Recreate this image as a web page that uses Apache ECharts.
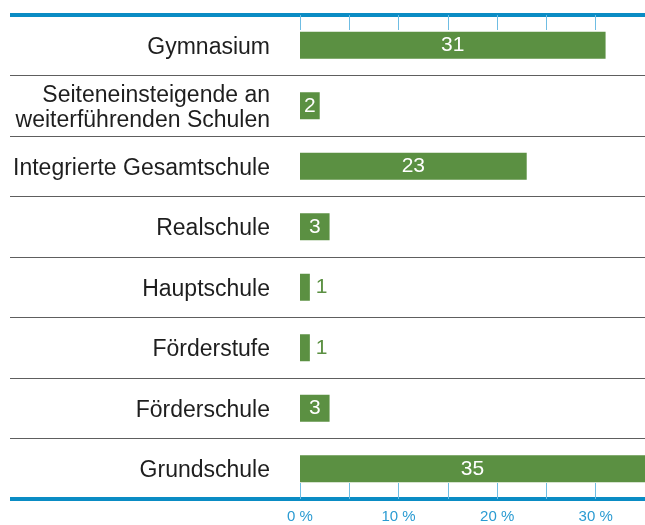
<!DOCTYPE html>
<html>
<head>
<meta charset="utf-8">
<script src="https://cdn.jsdelivr.net/npm/echarts@6/dist/echarts.min.js"></script>
<style>
	html, body { margin: 0; padding: 0; background: #fff; }
	#chart { width: 645px; height: 525px; }
</style>
</head>
<body>
<div id="chart"></div>
<script>
	// Schulformen, von oben nach unten
	const categories = [
		'Gymnasium',
		'Seiteneinsteigende an\nweiterführenden Schulen',
		'Integrierte Gesamtschule',
		'Realschule',
		'Hauptschule',
		'Förderstufe',
		'Förderschule',
		'Grundschule'
	];
	// Anteil in Prozent
	const values = [31, 2, 23, 3, 1, 1, 3, 35];
	const tickLabels = [0, 10, 20, 30];

	const blue = '#0a8cc4';
	const tickBlue = '#6fbde3';
	const green = '#5b9042';
	const grey = '#5e5e5e';
	const font = 'Liberation Sans, Arial, sans-serif';

	const chart = echarts.init(document.getElementById('chart'), null, { renderer: 'canvas' });

	const seriesData = values.map(v => {
		// sehr kleine Balken: Wert rechts daneben in grün
		if (v < 2) {
			return { value: v, label: { position: 'right', color: green, distance: 6 } };
		}
		return v;
	});

	// durchgehende blaue Linie oben/unten (ohne Ticks)
	const plainAxis = pos => ({
		gridIndex: 0, type: 'value', position: pos, min: 0, max: 1,
		axisLine: { show: true, lineStyle: { color: blue, width: 4, cap: 'butt' } },
		axisTick: { show: false }, axisLabel: { show: false }, splitLine: { show: false }
	});

	const option = {
		animation: false,
		textStyle: { fontFamily: font },
		grid: [
			// linker Bereich nur für die Linien
			{ left: 10, width: 290, top: 15, bottom: 26, outerBoundsMode: 'none' },
			{ left: 300, right: 0, top: 15, bottom: 26, outerBoundsMode: 'none' },
			// nur für die Beschriftung, etwas nach unten versetzt
			{ left: 270, width: 1, top: 17, bottom: 24, outerBoundsMode: 'none' }
		],
		xAxis: [
			plainAxis('top'),
			plainAxis('bottom'),
			{
				gridIndex: 1, type: 'value', position: 'top', min: 0, max: 35, interval: 5,
				axisLine: { show: true, lineStyle: { color: blue, width: 4, cap: 'butt' } },
				axisTick: { show: true, inside: true, length: 15, lineStyle: { color: tickBlue, width: 1 } },
				axisLabel: { show: false }, splitLine: { show: false }
			},
			{
				gridIndex: 1, type: 'value', position: 'bottom', min: 0, max: 35, interval: 5,
				axisLine: { show: true, lineStyle: { color: blue, width: 4, cap: 'butt' } },
				axisTick: { show: true, inside: true, length: 16, lineStyle: { color: tickBlue, width: 1 } },
				axisLabel: {
					margin: 10,
					fontSize: 15,
					color: '#2a9bd2',
					formatter: v => tickLabels.includes(v) ? v + ' %' : ''
				},
				splitLine: { show: false }
			},
			{ gridIndex: 2, type: 'value', show: false }
		],
		yAxis: [
			{
				gridIndex: 0, type: 'category', data: categories, inverse: true,
				axisLine: { show: false }, axisTick: { show: false }, axisLabel: { show: false },
				splitLine: { show: true, interval: 0, lineStyle: { color: grey, width: 1 } }
			},
			{
				gridIndex: 1, type: 'category', data: categories, inverse: true,
				axisLine: { show: false }, axisTick: { show: false }, axisLabel: { show: false },
				splitLine: { show: true, interval: 0, lineStyle: { color: grey, width: 1 } }
			},
			{
				gridIndex: 2, type: 'category', data: categories, inverse: true,
				axisLine: { show: false }, axisTick: { show: false }, splitLine: { show: false },
				axisLabel: {
					margin: 0,
					fontSize: 23,
					lineHeight: 25,
					color: '#1e1e1e',
					align: 'right'
				}
			}
		],
		series: [
			{
				type: 'bar',
				xAxisIndex: 3,
				yAxisIndex: 1,
				data: seriesData,
				barWidth: 27,
				itemStyle: { color: green },
				label: {
					show: true,
					position: 'inside',
					color: '#fff',
					fontSize: 21
				},
				z: 3
			}
		]
	};
	chart.setOption(option);
</script>
</body>
</html>
